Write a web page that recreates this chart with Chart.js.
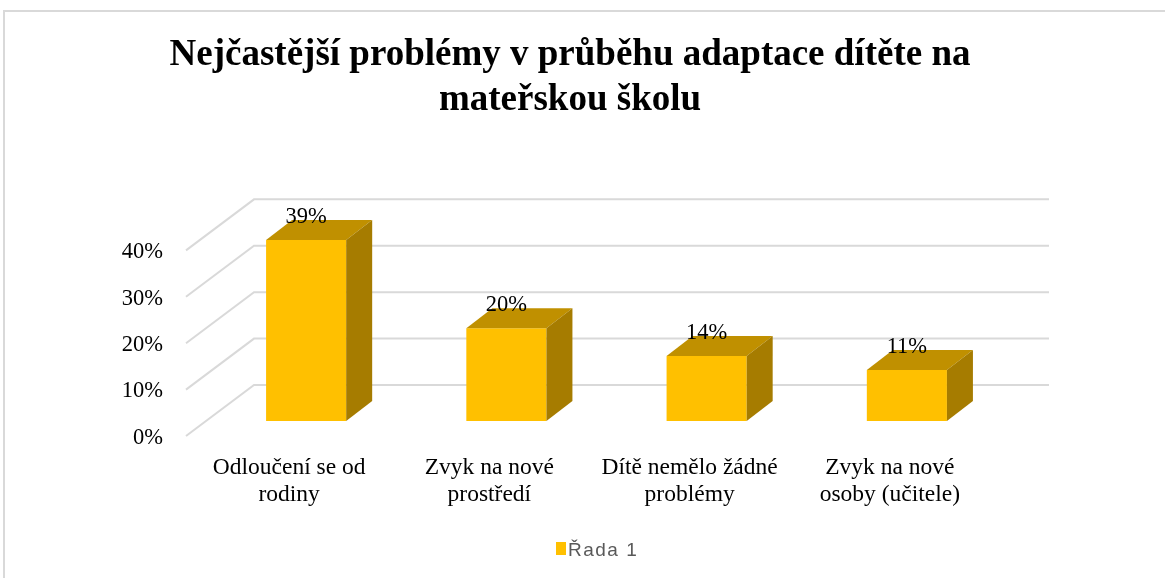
<!DOCTYPE html>
<html><head><meta charset="utf-8">
<script src="https://cdn.jsdelivr.net/npm/chart.js@4/dist/chart.umd.min.js"></script>
<style>html,body{margin:0;padding:0;background:#fff;} #wrap{width:1165px;height:578px;}</style>
</head><body><div id="wrap"><canvas id="c" width="1165" height="578"></canvas></div>
<script>
const titleLines = ["Nejčastější problémy v průběhu adaptace dítěte na", "mateřskou školu"];
const categories = [["Odloučení se od", "rodiny"], ["Zvyk na nové", "prostředí"], ["Dítě nemělo žádné", "problémy"], ["Zvyk na nové", "osoby (učitele)"]];
const seriesName = "Řada 1";
const seriesValues = [39, 20, 14, 11];
const yTickValues = [0, 10, 20, 30, 40];

const FRONT = '#FFC000', TOP = '#C09000', SIDE = '#A67C00', GRID = '#d9d9d9';
const SERIF = "'Liberation Serif', 'Times New Roman', serif";

const threeD = {
  id: 'threeD',
  beforeDraw(chart) {
    const ctx = chart.ctx;
    ctx.save();
    ctx.fillStyle = '#fff';
    ctx.fillRect(0, 0, chart.width, chart.height);
    ctx.strokeStyle = GRID; ctx.lineWidth = 2;
    ctx.strokeRect(4, 11, 1400, 800);
    ctx.restore();
  },
  beforeDatasetsDraw(chart) {
    const ctx = chart.ctx, ys = chart.scales.y, L = chart.chartArea.left;
    ctx.save();
    ctx.strokeStyle = GRID; ctx.lineWidth = 2;
    yTickValues.forEach(v => {
      const yp = ys.getPixelForValue(v);
      ctx.beginPath();
      ctx.moveTo(L - 20, yp + 15);
      ctx.lineTo(L + 48, yp - 36);
      ctx.lineTo(1049, yp - 36);
      ctx.stroke();
    });
    ctx.restore();
  },
  afterDatasetsDraw(chart) {
    const ctx = chart.ctx, meta = chart.getDatasetMeta(0);
    const dx = 26, dy = -20;
    ctx.save();
    meta.data.forEach((bar, i) => {
      const p = bar.getProps(['x', 'y', 'base', 'width'], true);
      const l = p.x - p.width / 2, r = p.x + p.width / 2;
      ctx.fillStyle = TOP;
      ctx.beginPath();
      ctx.moveTo(l, p.y); ctx.lineTo(l + dx, p.y + dy); ctx.lineTo(r + dx, p.y + dy); ctx.lineTo(r, p.y);
      ctx.closePath(); ctx.fill();
      ctx.fillStyle = SIDE;
      ctx.beginPath();
      ctx.moveTo(r, p.y); ctx.lineTo(r + dx, p.y + dy); ctx.lineTo(r + dx, p.base + dy); ctx.lineTo(r, p.base);
      ctx.closePath(); ctx.fill();
    });
    ctx.fillStyle = '#000';
    ctx.font = '22.5px ' + SERIF;
    ctx.textAlign = 'center'; ctx.textBaseline = 'alphabetic';
    meta.data.forEach((bar, i) => {
      const p = bar.getProps(['x', 'y'], true);
      ctx.fillText(seriesValues[i] + '%', p.x, p.y - 17);
    });
    ctx.restore();
  },
  afterDraw(chart) {
    const ctx = chart.ctx;
    ctx.save();
    ctx.fillStyle = FRONT;
    ctx.fillRect(556, 542, 10, 13);
    ctx.fillStyle = '#595959';
    ctx.font = "19px 'Liberation Sans', Arial, sans-serif";
    try { ctx.letterSpacing = '1.5px'; } catch (e) {}
    ctx.textAlign = 'left'; ctx.textBaseline = 'alphabetic';
    ctx.fillText(seriesName, 568, 556);
    ctx.restore();
  }
};

new Chart(document.getElementById('c'), {
  type: 'bar',
  data: {
    labels: categories,
    datasets: [{
      label: seriesName,
      data: seriesValues,
      backgroundColor: FRONT,
      borderWidth: 0,
      categoryPercentage: 1,
      barPercentage: 0.4
    }]
  },
  options: {
    responsive: false,
    animation: false,
    layout: { padding: { left: 0, right: 25, top: 0, bottom: 57 } },
    plugins: {
      legend: { display: false },
      tooltip: { enabled: false },
      title: {
        display: true,
        text: titleLines,
        color: '#000',
        font: { family: SERIF, size: 37, weight: 'bold', lineHeight: 1.24 },
        padding: { top: 32, bottom: 111.6 }
      }
    },
    scales: {
      x: {
        grid: { display: false, drawTicks: false },
        border: { display: false },
        ticks: {
          color: '#000',
          font: { family: SERIF, size: 23.5, lineHeight: 1.17 },
          padding: 33,
          labelOffset: -17,
          autoSkip: false,
          maxRotation: 0,
          minRotation: 0
        },
        afterFit(s) { s.height = 100; }
      },
      y: {
        min: 0, max: 40,
        grid: { display: false, drawTicks: false },
        border: { display: false },
        ticks: {
          stepSize: 10,
          color: '#000',
          font: { family: SERIF, size: 22.5 },
          padding: 43,
          labelOffset: 17,
          callback: v => v + '%'
        },
        afterFit(s) { s.width = 206; }
      },
      y2: {
        position: 'right',
        display: true,
        min: 0, max: 40,
        grid: { display: false, drawTicks: false },
        border: { display: false },
        ticks: { display: false },
        afterFit(s) { s.width = 133; }
      }
    }
  },
  plugins: [threeD]
});
</script></body></html>
